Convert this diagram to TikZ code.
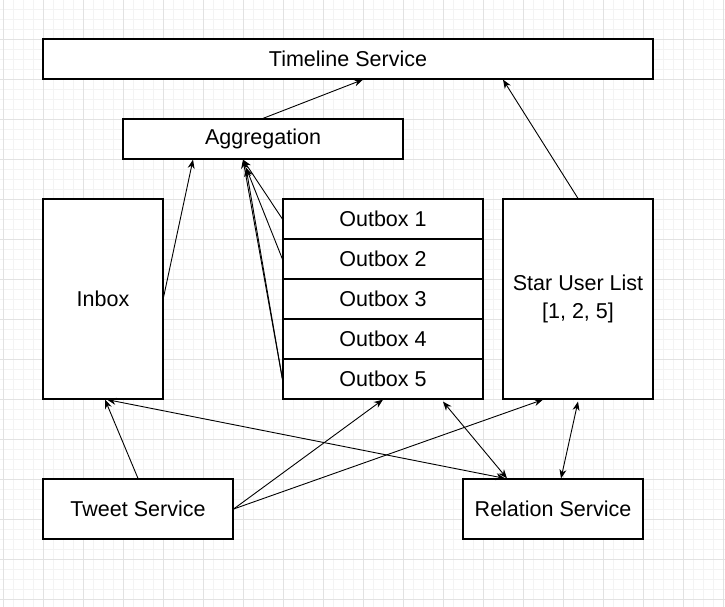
\documentclass[tikz,border=0pt]{standalone}
\usepackage{fontspec}
\setmainfont{Liberation Sans}
\usetikzlibrary{arrows.meta}
\definecolor{gridminor}{HTML}{F3F3F3}
\definecolor{gridmajor}{HTML}{E2E2E2}

\begin{document}
\begin{tikzpicture}[x=1pt, y=-1pt, font=\fontsize{21.5}{28}\selectfont,
    box/.style={draw, line width=1.2pt, fill=white, inner sep=0pt, align=center},
    arr/.style={-{Stealth[length=9pt, width=7pt]}, line width=0.9pt},
    darr/.style={{Stealth[length=9pt, width=7pt]}-{Stealth[length=9pt, width=7pt]}, line width=0.9pt}]
    \useasboundingbox (0,0) rectangle (725,607);
    % background grid
    \foreach \gx in {3,13,...,723} \draw[gridminor, line width=0.8pt] (\gx,0) -- (\gx,607);
    \foreach \gy in {9,19,...,607} \draw[gridminor, line width=0.8pt] (0,\gy) -- (725,\gy);
    \foreach \gx in {3,43,...,723} \draw[gridmajor, line width=0.8pt] (\gx,0) -- (\gx,607);
    \foreach \gy in {39,79,...,607} \draw[gridmajor, line width=0.8pt] (0,\gy) -- (725,\gy);
    % boxes
    \node[box, minimum width=610pt, minimum height=40pt] (timeline) at (348,59)  {Timeline Service};
    \node[box, minimum width=280pt, minimum height=40pt] (agg)      at (263,139) {Aggregation};
    \node[box, minimum width=120pt, minimum height=200pt] (inbox)   at (103,299) {Inbox};
    \foreach \k in {1,...,5}
      \node[box, minimum width=200pt, minimum height=40pt] (out\k) at (383,179+40*\k) {Outbox \k};
    \node[box, minimum width=150pt, minimum height=200pt] (star)    at (578,299) {Star User List\\{[1, 2, 5]}};
    \node[box, minimum width=190pt, minimum height=60pt] (tweet)    at (138,509) {Tweet Service};
    \node[box, minimum width=180pt, minimum height=60pt] (relation) at (553,509) {Relation Service};
    % connectors
    \draw[arr]  (agg.north)   -- ([xshift=15pt]timeline.south);
    \draw[arr]  (star.north)  -- ([xshift=155pt]timeline.south);
    \draw[arr]  ([yshift=2pt]inbox.east) -- ([xshift=-70pt]agg.south);
    \draw[arr]  (out1.west)   -- ([xshift=-20pt]agg.south);
    \draw[arr]  (out2.west)   -- ([xshift=-17pt, yshift=-8pt]agg.south);
    \draw[arr]  (out5.west)   -- ([xshift=-17pt, yshift=-8pt]agg.south);
    \draw[arr]  (out5.west)   -- ([xshift=-20pt]agg.south);
    \draw[arr]  (tweet.north) -- ([xshift=2pt]inbox.south);
    \draw[arr]  (tweet.east)  -- (out5.south);
    \draw[arr]  (tweet.east)  -- ([xshift=-35pt]star.south);
    \draw[darr] ([xshift=4pt]inbox.south) -- ([xshift=-48pt]relation.north);
    \draw[darr] ([xshift=60pt, yshift=-2pt]out5.south) -- ([xshift=-46pt]relation.north);
    \draw[darr] ([yshift=-2pt]star.south) -- ([xshift=8pt]relation.north);
\end{tikzpicture}
\end{document}
